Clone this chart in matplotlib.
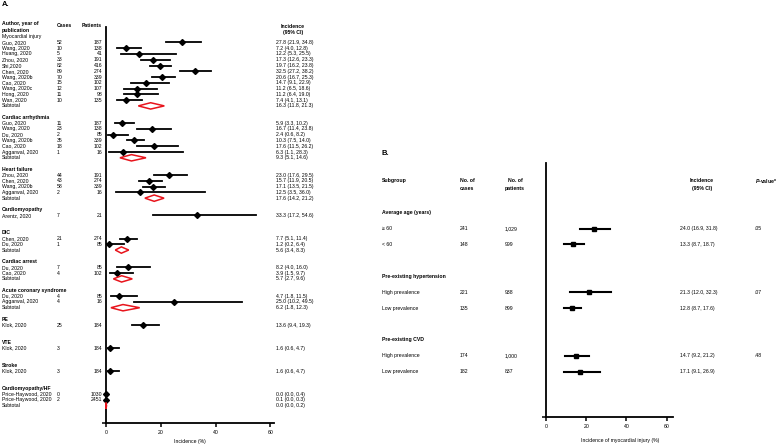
import matplotlib
matplotlib.use("Agg")
import matplotlib.pyplot as plt
from matplotlib.transforms import blended_transform_factory

plt.rcParams["font.family"] = ["Liberation Sans", "DejaVu Sans"]
plt.rcParams["mathtext.fontset"] = "custom"
plt.rcParams["mathtext.it"] = "Liberation Sans:italic:bold"
plt.rcParams["mathtext.rm"] = "Liberation Sans"

W, H = 781, 444

# ---- panel A data ----
a_groups = ["Myocardial injury", "Cardiac arrhythmia", "Heart failure", "Cardiomyopathy",
            "DIC", "Cardiac arrest", "Acute coronary syndrome", "PE", "VTE", "Stroke",
            "Cardiomyopathy/HF"]
a_group = [0] * 11 + [1] * 6 + [2] * 4 + [3] + [4] * 2 + [5] * 2 + [6] * 2 + [7] + [8] + [9] + [10] * 2
a_study = ["Guo, 2020", "Wang, 2020", "Huang, 2020", "Zhou, 2020", "Shi,2020", "Chen, 2020",
           "Wang, 2020b", "Cao, 2020", "Wang, 2020c", "Hong, 2020", "Wan, 2020",
           "Guo, 2020", "Wang, 2020", "Du, 2020", "Wang, 2020b", "Cao, 2020", "Aggarwal, 2020",
           "Zhou, 2020", "Chen, 2020", "Wang, 2020b", "Aggarwal, 2020",
           "Arentz, 2020",
           "Chen, 2020", "Du, 2020",
           "Du, 2020", "Cao, 2020",
           "Du, 2020", "Aggarwal, 2020",
           "Klok, 2020", "Klok, 2020", "Klok, 2020",
           "Price-Haywood, 2020", "Price-Haywood, 2020"]
a_cases = [52, 10, 5, 33, 82, 89, 70, 15, 12, 11, 10,
           11, 23, 2, 35, 18, 1,
           44, 43, 58, 2,
           7,
           21, 1,
           7, 4,
           4, 4,
           25, 3, 3,
           0, 2]
a_patients = [187, 138, 41, 191, 416, 274, 339, 102, 107, 98, 135,
              187, 138, 85, 339, 102, 16,
              191, 274, 339, 16,
              21,
              274, 85,
              85, 102,
              85, 16,
              184, 184, 184,
              1030, 2451]
a_est = [27.8, 7.2, 12.2, 17.3, 19.7, 32.5, 20.6, 14.7, 11.2, 11.2, 7.4,
         5.9, 16.7, 2.4, 10.3, 17.6, 6.3,
         23.0, 15.7, 17.1, 12.5,
         33.3,
         7.7, 1.2,
         8.2, 3.9,
         4.7, 25.0,
         13.6, 1.6, 1.6,
         0.0, 0.1]
a_lo = [21.9, 4.0, 5.3, 12.6, 16.2, 27.2, 16.7, 9.1, 6.5, 6.4, 4.1,
        3.3, 11.4, 0.6, 7.5, 11.5, 1.1,
        17.6, 11.9, 13.5, 3.5,
        17.2,
        5.1, 0.2,
        4.0, 1.5,
        1.8, 10.2,
        9.4, 0.6, 0.6,
        0.0, 0.0]
a_hi = [34.8, 12.8, 25.5, 23.3, 23.8, 38.2, 25.3, 22.9, 18.6, 19.0, 13.1,
        10.2, 23.8, 8.2, 14.0, 26.2, 28.3,
        29.5, 20.5, 21.5, 36.0,
        54.6,
        11.4, 6.4,
        16.0, 9.7,
        11.5, 49.5,
        19.3, 4.7, 4.7,
        0.4, 0.3]
sub_group = [0, 1, 2, 4, 5, 6, 10]
sub_est = [16.3, 9.3, 17.6, 5.6, 5.7, 6.2, 0.0]
sub_lo = [11.8, 5.1, 14.2, 3.4, 2.7, 1.8, 0.0]
sub_hi = [21.3, 14.6, 21.2, 8.3, 9.6, 12.3, 0.2]

# ---- panel B data ----
b_groups = ["Average age (years)", "Pre-existing hypertension", "Pre-existing CVD"]
b_group = [0, 0, 1, 1, 2, 2]
b_label = ["\u2265 60", "< 60", "High prevalence", "Low prevalence", "High prevalence", "Low prevalence"]
b_cases = ["241", "148", "221", "135", "174", "182"]
b_patients = ["1,029", "999", "938", "899", "1,000", "837"]
b_est = [24.0, 13.3, 21.3, 12.8, 14.7, 17.1]
b_lo = [16.9, 8.7, 12.0, 8.7, 9.2, 9.1]
b_hi = [31.8, 18.7, 32.3, 17.6, 21.2, 26.9]
b_pval = [".05", ".07", ".48"]

FS = 3.7


def fx(px):
    return px / W


def fy(py):
    return 1 - py / H


def ci_text(e, l, h):
    return "{:.1f} ({:.1f}, {:.1f})".format(e, l, h)


fig = plt.figure(figsize=(W / 100, H / 100), dpi=100)


def style_axis(ax, xmax):
    ax.set_xlim(0, xmax)
    for s in ["top", "right"]:
        ax.spines[s].set_visible(False)
    for s in ["left", "bottom"]:
        ax.spines[s].set_linewidth(1.3)
    ax.set_xticks([0, 20, 40, 60])
    ax.tick_params(axis="x", length=3, width=1.1, labelsize=FS, pad=2)
    ax.set_yticks([ax.get_ylim()[0]])
    ax.set_yticklabels([""])
    ax.tick_params(axis="y", length=3, width=1.1)
    ax.patch.set_visible(False)


# ---- panel A ----
a0, a60, aright = 106, 270.3, 274
ascale = (a60 - a0) / 60
arow0, astep = 36.7, 5.766
atop, abot = 27, 423
axA = fig.add_axes([fx(a0), fy(abot), (aright - a0) / W, (abot - atop) / H])
axA.set_ylim((abot - arow0) / astep, (atop - arow0) / astep)
style_axis(axA, (aright - a0) / ascale)
trA = blended_transform_factory(fig.transFigure, axA.transData)

fig.text(fx(2), fy(5), "A.", fontsize=5.5, fontweight="bold", va="center")
fig.text(fx(2), fy(24), "Author, year of", fontsize=FS, fontweight="bold", va="center")
fig.text(fx(2), fy(30.3), "publication", fontsize=FS, fontweight="bold", va="center")
fig.text(fx(57), fy(25.3), "Cases", fontsize=FS, fontweight="bold", va="center")
fig.text(fx(82), fy(25.3), "Patients", fontsize=FS, fontweight="bold", va="center")
fig.text(fx(293), fy(26), "Incidence", fontsize=FS, fontweight="bold", va="center", ha="center")
fig.text(fx(293), fy(32.5), "(95% CI)", fontsize=FS, fontweight="bold", va="center", ha="center")

row = 0
for gi, gname in enumerate(a_groups):
    axA.text(fx(2), row, gname, transform=trA, fontsize=FS, va="center",
             fontweight="normal" if gi == 0 else "bold")
    row += 1
    for i in range(len(a_study)):
        if a_group[i] != gi:
            continue
        axA.text(fx(2), row, a_study[i], transform=trA, fontsize=FS, va="center")
        axA.text(fx(57), row, str(a_cases[i]), transform=trA, fontsize=FS, va="center")
        axA.text(fx(102.5), row, str(a_patients[i]), transform=trA, fontsize=FS, va="center", ha="right")
        axA.text(fx(276), row, ci_text(a_est[i], a_lo[i], a_hi[i]), transform=trA, fontsize=FS, va="center")
        axA.plot([a_lo[i], a_hi[i]], [row, row], color="black", lw=1.3, clip_on=False, zorder=3)
        axA.plot(a_est[i], row, marker="D", color="black", ms=3, clip_on=False, zorder=4)
        row += 1
    if gi in sub_group:
        k = sub_group.index(gi)
        axA.text(fx(2), row, "Subtotal", transform=trA, fontsize=FS, va="center")
        axA.text(fx(276), row, ci_text(sub_est[k], sub_lo[k], sub_hi[k]), transform=trA, fontsize=FS, va="center")
        h = 0.55
        axA.fill([sub_lo[k], sub_est[k], sub_hi[k], sub_est[k]], [row, row - h, row, row + h],
                 facecolor="white", edgecolor="#e8141c", lw=1.1, clip_on=False, zorder=5)
    row += 2

axA.set_xlabel("Incidence (%)", fontsize=FS, labelpad=3)

# ---- panel B ----
b0, b60, bright = 546, 666.7, 673.3
bscale = (b60 - b0) / 60
brow0, bstep = 212.7, 15.9
btop, bbot = 162.7, 417.3
axB = fig.add_axes([fx(b0), fy(bbot), (bright - b0) / W, (bbot - btop) / H])
axB.set_ylim((bbot - brow0) / bstep, (btop - brow0) / bstep)
style_axis(axB, (bright - b0) / bscale)
trB = blended_transform_factory(fig.transFigure, axB.transData)

fig.text(fx(382), fy(153.3), "B.", fontsize=5.5, fontweight="bold", va="center")
fig.text(fx(382), fy(180.7), "Subgroup", fontsize=FS, fontweight="bold", va="center")
fig.text(fx(460), fy(180.7), "No. of", fontsize=FS, fontweight="bold", va="center")
fig.text(fx(460), fy(188.3), "cases", fontsize=FS, fontweight="bold", va="center")
fig.text(fx(515), fy(180.7), "No. of", fontsize=FS, fontweight="bold", va="center", ha="center")
fig.text(fx(515), fy(188.3), "patients", fontsize=FS, fontweight="bold", va="center", ha="center")
fig.text(fx(702), fy(180.7), "Incidence", fontsize=FS, fontweight="bold", va="center", ha="center")
fig.text(fx(702), fy(188.3), "(95% CI)", fontsize=FS, fontweight="bold", va="center", ha="center")
fig.text(fx(755), fy(180.7), r"$P$-value*", fontsize=FS, fontweight="bold", va="center")

row = 0
for gi, gname in enumerate(b_groups):
    axB.text(fx(382), row, gname, transform=trB, fontsize=FS, fontweight="bold", va="center")
    row += 1
    first = True
    for i in range(len(b_label)):
        if b_group[i] != gi:
            continue
        axB.text(fx(382), row, b_label[i], transform=trB, fontsize=FS, va="center")
        axB.text(fx(460), row, b_cases[i], transform=trB, fontsize=FS, va="center")
        axB.text(fx(505), row, b_patients[i], transform=trB, fontsize=FS, va="center")
        axB.text(fx(680), row, ci_text(b_est[i], b_lo[i], b_hi[i]), transform=trB, fontsize=FS, va="center")
        if first:
            axB.text(fx(755), row, b_pval[gi], transform=trB, fontsize=FS, va="center")
            first = False
        axB.plot([b_lo[i], b_hi[i]], [row, row], color="black", lw=1.5, zorder=3)
        axB.plot(b_est[i], row, marker="s", color="black", ms=3.2, zorder=4)
        row += 1
    row += 1

fig.text(fx(620), fy(440), "Incidence of myocardial injury (%)", fontsize=FS, va="center", ha="center")

fig.savefig("out.png", dpi=100)
